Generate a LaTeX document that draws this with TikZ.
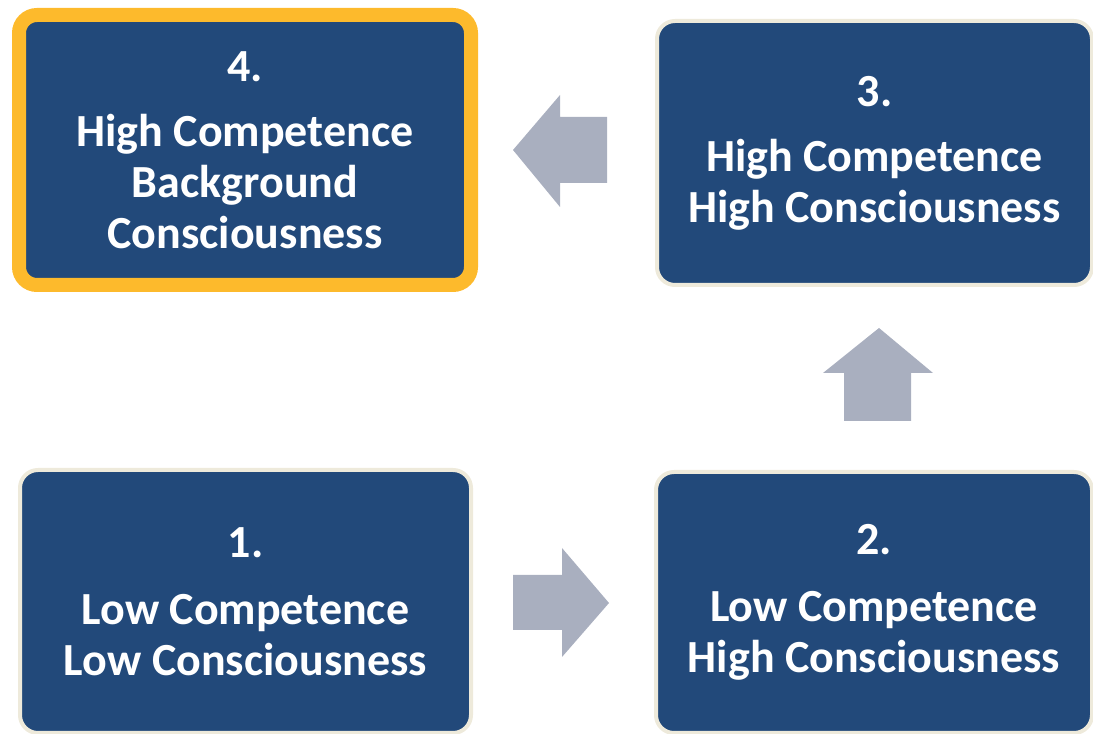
\documentclass[tikz,border=0pt]{standalone}
\usepackage{fontspec}
\setmainfont{Carlito}
\usetikzlibrary{positioning}

\definecolor{stageblue}{HTML}{22497A}
\definecolor{stagegold}{HTML}{FDBA2C}
\definecolor{stagerim}{HTML}{EEEADB}
\definecolor{flowgray}{HTML}{A9AFBF}

\begin{document}
\begin{tikzpicture}
[x=1pt, y=1pt,
 stage/.style={fill=stageblue, draw=stagerim, line width=4pt, rounded corners=18pt,
   text=white, font=\fontsize{46}{51}\selectfont\bfseries, align=center, inner sep=0pt},
 flow/.style={fill=flowgray}]

\useasboundingbox (0,0) rectangle (1093,734);

\node[stage, draw=stagegold, line width=14pt, minimum width=452pt, minimum height=270pt] (s4) at(245,584)
  {4.\\[14pt]High Competence\\Background\\Consciousness};
\node[stage, minimum width=435pt, minimum height=264pt] (s3) at(874.5,581)
  {3.\\[14pt]High Competence\\High Consciousness};
\node[stage, minimum width=451pt, minimum height=263pt] (s1) at(245.5,132.5)
  {1.\\[16pt]Low Competence\\Low Consciousness};
\node[stage, minimum width=436pt, minimum height=261pt] (s2) at(874,131.5)
  {2.\\[16pt]Low Competence\\High Consciousness};

% block arrows between the stages
\fill[flow] (609,131) -- (562,186) -- (562,159) -- (513,159) -- (513,104) -- (562,104) -- (562,77) -- cycle;
\fill[flow] (879,406) -- (933,361) -- (911,361) -- (911,313) -- (844,313) -- (844,361) -- (823,361) -- cycle;
\fill[flow] (513,584) -- (560,639) -- (560,617) -- (607,617) -- (607,551) -- (560,551) -- (560,527) -- cycle;
\end{tikzpicture}
\end{document}
